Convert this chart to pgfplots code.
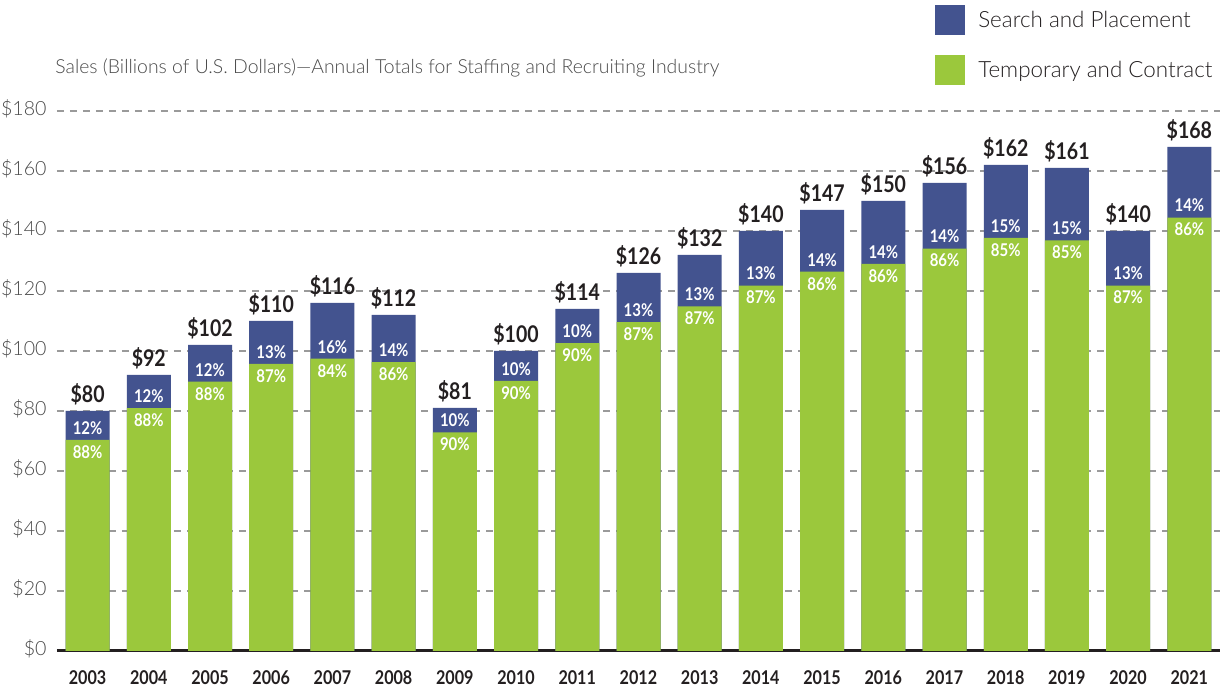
\documentclass[border=0pt]{standalone}
\usepackage{fontspec}
\setmainfont{Lato}
\newfontfamily\lightfont{Lato Light}
\newfontfamily\condfont{Lato}[FakeStretch=0.85]
\usepackage{pgfplots}
\usepackage{pgfplotstable}
\pgfplotsset{compat=1.18}
\definecolor{sbblue}{HTML}{43538F}
\definecolor{tcgreen}{HTML}{9BC83C}
\definecolor{labdark}{HTML}{231F20}
\definecolor{tickgray}{HTML}{4A4A4A}
\definecolor{gridgray}{HTML}{9A9A9A}

\pgfplotstableread{
year temp total tp sp
2003 70.40 80 88 12
2004 80.96 92 88 12
2005 89.76 102 88 12
2006 95.70 110 87 13
2007 97.44 116 84 16
2008 96.32 112 86 14
2009 72.90 81 90 10
2010 90.00 100 90 10
2011 102.60 114 90 10
2012 109.62 126 87 13
2013 114.84 132 87 13
2014 121.80 140 87 13
2015 126.42 147 86 14
2016 129.00 150 86 14
2017 134.16 156 86 14
2018 137.70 162 85 15
2019 136.85 161 85 15
2020 121.80 140 87 13
2021 144.48 168 86 14
}\datatable

\begin{document}
\begin{tikzpicture}
\useasboundingbox (-28.5pt,-19pt) rectangle (585pt,325.5pt);
\begin{axis}[
  at={(0pt,0pt)}, anchor=south west,
  scale only axis,
  width=581.5pt, height=270pt,
  xmin=2002.5, xmax=2021.5,
  ymin=0, ymax=180,
  xtick={2003,2004,...,2021},
  ytick={0,20,...,180},
  /pgf/number format/.cd, 1000 sep={}, assume math mode=true, /pgfplots/.cd,
  axis x line*=bottom,
  axis y line*=left,
  x axis line style={-, line width=1.5pt, labdark},
  y axis line style={draw=none},
  major tick length=0pt,
  ymajorgrids,
  grid style={gridgray, line width=0.6pt, dash pattern=on 3.5pt off 3pt},
  yticklabel={\$\pgfmathprintnumber{\tick}},
  yticklabel style={anchor=east, inner sep=0pt, xshift=-5pt, yshift=1pt, text=tickgray,
    font=\lightfont\fontsize{9.8}{9.8}\selectfont},
  xticklabel style={anchor=north, inner sep=0pt, yshift=-9.5pt, text=labdark,
    font=\condfont\bfseries\fontsize{9.5}{9.5}\selectfont},
  legend style={at={(rel axis cs:0.7549,1.1963)}, anchor=north west,
    draw=none, fill=none, inner sep=0pt, row sep=10pt, column sep=6.5pt,
    nodes={inner sep=0pt},
    font=\lightfont\fontsize{11.2}{11.2}\selectfont, text=labdark},
  legend cell align=left,
  legend image code/.code={\fill[#1] (0pt,-7.5pt) rectangle (15pt,7.5pt);},
]
\addplot[ybar, bar width=22pt, bar shift=0pt, fill=sbblue, draw=none]
  table[x=year, y=total] {\datatable};
\addlegendentry{Search and Placement}
\addplot[ybar, bar width=22pt, bar shift=0pt, fill=tcgreen, draw=none]
  table[x=year, y=temp] {\datatable};
\addlegendentry{Temporary and Contract}
% totals
\addplot[forget plot, draw=none, mark=none, point meta=explicit,
  nodes near coords={\$\pgfmathprintnumber{\pgfplotspointmeta}},
  every node near coord/.style={anchor=base, inner sep=0pt, yshift=4pt,
    text=labdark, font=\condfont\bfseries\fontsize{11.5}{11.5}\selectfont}]
  table[x=year, y=total, meta=total] {\datatable};
% search pct
\addplot[forget plot, draw=none, mark=none, point meta=explicit,
  nodes near coords={\pgfmathprintnumber{\pgfplotspointmeta}\%},
  every node near coord/.style={anchor=center, inner sep=0pt, yshift=6pt,
    text=white, font=\condfont\bfseries\fontsize{8.8}{8.8}\selectfont}]
  table[x=year, y=temp, meta=sp] {\datatable};
% temp pct
\addplot[forget plot, draw=none, mark=none, point meta=explicit,
  nodes near coords={\pgfmathprintnumber{\pgfplotspointmeta}\%},
  every node near coord/.style={anchor=center, inner sep=0pt, yshift=-6pt,
    text=white, font=\condfont\bfseries\fontsize{8.8}{8.8}\selectfont}]
  table[x=year, y=temp, meta=tp] {\datatable};
\end{axis}
\node[anchor=west, inner sep=0pt, text=tickgray,
  font=\lightfont\fontsize{9.7}{9.7}\selectfont] at (-1pt,291.5pt)
  {Sales (Billions of U.S. Dollars)—Annual Totals for Staffing and Recruiting Industry};
\end{tikzpicture}
\end{document}
